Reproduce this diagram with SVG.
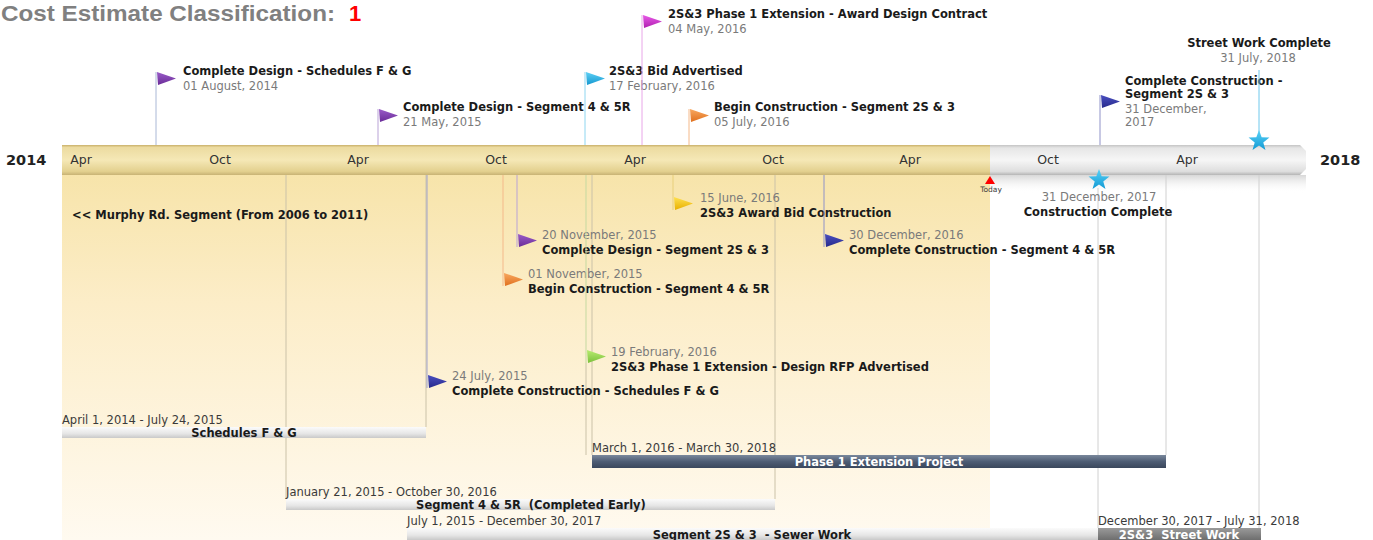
<svg xmlns="http://www.w3.org/2000/svg" xmlns:xlink="http://www.w3.org/1999/xlink" width="1373" height="540" viewBox="0 0 1373 540">
<style>
.t{font-family:"DejaVu Sans",Verdana,sans-serif;font-weight:bold;font-size:11.5px;fill:#1a1a1a}
.d{font-family:"DejaVu Sans",Verdana,sans-serif;font-size:11.5px;fill:#7a7a7a}
.bd{font-family:"DejaVu Sans",Verdana,sans-serif;font-size:11.5px;fill:#3a3a3a}
.m{font-family:"DejaVu Sans",Verdana,sans-serif;font-size:12.5px;fill:#333;text-anchor:middle}
.yr{font-family:"DejaVu Sans",Verdana,sans-serif;font-weight:bold;font-size:14.5px;fill:#222}
.w{font-family:"DejaVu Sans",Verdana,sans-serif;font-weight:bold;font-size:11.5px;fill:#fff;text-anchor:middle}
.ttl{font-family:"Liberation Sans",Arial,sans-serif;font-weight:bold;font-size:22px}
.c{text-anchor:middle}
.g{stroke:#cbc2a8;stroke-width:1}
.gw{stroke:#d0d0d0;stroke-width:1}
</style>
<defs>
<linearGradient id="gold" x1="0" y1="0" x2="0" y2="1">
<stop offset="0" stop-color="#c9b06a"/><stop offset="0.08" stop-color="#ecdba0"/><stop offset="0.5" stop-color="#f5e8b6"/><stop offset="0.88" stop-color="#e3d08e"/><stop offset="1" stop-color="#c8b274"/>
</linearGradient>
<linearGradient id="grey" x1="0" y1="0" x2="0" y2="1">
<stop offset="0" stop-color="#c4c4c4"/><stop offset="0.1" stop-color="#e6e6e6"/><stop offset="0.5" stop-color="#f6f6f6"/><stop offset="0.88" stop-color="#dedede"/><stop offset="1" stop-color="#b5b5b5"/>
</linearGradient>
<linearGradient id="bg" x1="0" y1="0" x2="0" y2="1">
<stop offset="0" stop-color="#f7e4aa"/><stop offset="0.35" stop-color="#fcedc8"/><stop offset="1" stop-color="#fffaf0"/>
</linearGradient>
<linearGradient id="shade" x1="0" y1="0" x2="0" y2="1">
<stop offset="0" stop-color="#d8d8d8"/><stop offset="1" stop-color="#ffffff" stop-opacity="0"/>
</linearGradient>
<linearGradient id="lbar" x1="0" y1="0" x2="0" y2="1">
<stop offset="0" stop-color="#fbfbfb"/><stop offset="0.6" stop-color="#e6e6e6"/><stop offset="1" stop-color="#c9c9c9"/>
</linearGradient>
<linearGradient id="dbar" x1="0" y1="0" x2="0" y2="1">
<stop offset="0" stop-color="#7a889c"/><stop offset="0.5" stop-color="#4e5d74"/><stop offset="1" stop-color="#3a475c"/>
</linearGradient>
<linearGradient id="sbar" x1="0" y1="0" x2="0" y2="1">
<stop offset="0" stop-color="#9a9a9a"/><stop offset="1" stop-color="#6e6e6e"/>
</linearGradient>
<linearGradient id="fPurple" x1="0" y1="0" x2="0" y2="1"><stop offset="0" stop-color="#9a5cc8"/><stop offset="1" stop-color="#6a2c98"/></linearGradient>
<linearGradient id="fNavy" x1="0" y1="0" x2="0" y2="1"><stop offset="0" stop-color="#4a4fc0"/><stop offset="1" stop-color="#272a8c"/></linearGradient>
<linearGradient id="fCyan" x1="0" y1="0" x2="0" y2="1"><stop offset="0" stop-color="#5fd0f5"/><stop offset="1" stop-color="#1498d0"/></linearGradient>
<linearGradient id="fMag" x1="0" y1="0" x2="0" y2="1"><stop offset="0" stop-color="#e85ae8"/><stop offset="1" stop-color="#b020b0"/></linearGradient>
<linearGradient id="fOrange" x1="0" y1="0" x2="0" y2="1"><stop offset="0" stop-color="#f8a860"/><stop offset="1" stop-color="#e0701e"/></linearGradient>
<linearGradient id="fYellow" x1="0" y1="0" x2="0" y2="1"><stop offset="0" stop-color="#ffe050"/><stop offset="1" stop-color="#e8b000"/></linearGradient>
<linearGradient id="fGreen" x1="0" y1="0" x2="0" y2="1"><stop offset="0" stop-color="#b8ec70"/><stop offset="1" stop-color="#7cc03c"/></linearGradient>
<linearGradient id="fStar" x1="0" y1="0" x2="0" y2="1"><stop offset="0" stop-color="#5ad2f8"/><stop offset="1" stop-color="#129ad4"/></linearGradient>
<path id="flag" d="M0,0 L19,6.5 L1,13 Z"/>
<path id="star" d="M0,-11 L2.65,-3.64 L10.46,-3.4 L4.28,1.39 L6.47,8.9 L0,4.5 L-6.47,8.9 L-4.28,1.39 L-10.46,-3.4 L-2.65,-3.64 Z"/>
</defs>

<rect width="1373" height="540" fill="#ffffff"/>

<!-- title -->
<g id="title">
<text class="ttl" x="1" y="21" fill="#808080" textLength="334" lengthAdjust="spacingAndGlyphs">Cost Estimate Classification:</text>
<text class="ttl" x="349" y="21" fill="#ff0000">1</text>
</g>

<!-- background areas -->
<rect x="62" y="175" width="928" height="365" fill="url(#bg)"/>
<rect x="990" y="175" width="316" height="18" fill="url(#shade)"/>

<!-- timeline bar -->
<g id="timeline">
<rect x="62" y="145" width="928" height="30" fill="url(#gold)"/>
<path d="M990,145 L1300,145 L1306,151 L1306,169 L1300,175 L990,175 Z" fill="url(#grey)"/>
<text class="yr" x="6" y="165">2014</text>
<text class="yr" x="1320" y="165">2018</text>
<text class="m" x="81" y="164">Apr</text>
<text class="m" x="220" y="164">Oct</text>
<text class="m" x="358" y="164">Apr</text>
<text class="m" x="496" y="164">Oct</text>
<text class="m" x="635" y="164">Apr</text>
<text class="m" x="773" y="164">Oct</text>
<text class="m" x="910" y="164">Apr</text>
<text class="m" x="1048" y="164">Oct</text>
<text class="m" x="1187" y="164">Apr</text>
</g>

<!-- guide lines -->
<g id="connectors">
<line class="g" x1="286" y1="175" x2="286" y2="499"/>
<line class="g" x1="426" y1="175" x2="426" y2="427"/>
<line class="g" x1="586" y1="363" x2="586" y2="455"/>
<line class="g" x1="592" y1="175" x2="592" y2="455"/>
<line class="g" x1="775" y1="175" x2="775" y2="499"/>
<line class="gw" x1="1098" y1="188" x2="1098" y2="528"/>
<line class="gw" x1="1166" y1="175" x2="1166" y2="455"/>
<line class="gw" x1="1259" y1="175" x2="1259" y2="528"/>
</g>

<text class="t" x="72" y="219" font-size="11">&lt;&lt; Murphy Rd. Segment (From 2006 to 2011)</text>

<!-- milestones above the bar -->
<g id="m-design-fg">
<line x1="156" y1="72" x2="156" y2="145" stroke="#aab8d6"/>
<use xlink:href="#flag" x="157" y="72" fill="url(#fPurple)"/>
<text class="t" x="183" y="75">Complete Design - Schedules F &amp; G</text>
<text class="d" x="183" y="90">01 August, 2014</text>
</g>
<g id="m-design-45r">
<line x1="378" y1="109" x2="378" y2="145" stroke="#b9a3d6"/>
<use xlink:href="#flag" x="379" y="109" fill="url(#fPurple)"/>
<text class="t" x="403" y="111">Complete Design - Segment 4 &amp; 5R</text>
<text class="d" x="403" y="126">21 May, 2015</text>
</g>
<g id="m-bid-adv">
<line x1="585" y1="72" x2="585" y2="145" stroke="#8fd6f0"/>
<use xlink:href="#flag" x="586" y="72" fill="url(#fCyan)"/>
<text class="t" x="609" y="75">2S&amp;3 Bid Advertised</text>
<text class="d" x="609" y="90">17 February, 2016</text>
</g>
<g id="m-award-design">
<line x1="642" y1="15" x2="642" y2="145" stroke="#e8a6e8"/>
<use xlink:href="#flag" x="643" y="15" fill="url(#fMag)"/>
<text class="t" x="668" y="18">2S&amp;3 Phase 1 Extension - Award Design Contract</text>
<text class="d" x="668" y="33">04 May, 2016</text>
</g>
<g id="m-begin-2s3">
<line x1="689" y1="109" x2="689" y2="145" stroke="#f4b98a"/>
<use xlink:href="#flag" x="690" y="109" fill="url(#fOrange)"/>
<text class="t" x="714" y="111">Begin Construction - Segment 2S &amp; 3</text>
<text class="d" x="714" y="126">05 July, 2016</text>
</g>
<g id="m-complete-2s3">
<line x1="1100" y1="95" x2="1100" y2="145" stroke="#8f92c8"/>
<use xlink:href="#flag" x="1101" y="95" fill="url(#fNavy)"/>
<text class="t" x="1125" y="85">Complete Construction -</text>
<text class="t" x="1125" y="98">Segment 2S &amp; 3</text>
<text class="d" x="1125" y="113">31 December,</text>
<text class="d" x="1125" y="126">2017</text>
</g>
<g id="m-street-complete">
<line x1="1259" y1="70" x2="1259" y2="132" stroke="#6fc8ec"/>
<use xlink:href="#star" transform="translate(1259,141)" fill="url(#fStar)"/>
<text class="t c" x="1259" y="47">Street Work Complete</text>
<text class="d c" x="1258" y="62">31 July, 2018</text>
</g>

<!-- milestones below the bar -->
<g id="m-award-bid">
<line x1="673" y1="175" x2="673" y2="210" stroke="#e8cf7a"/>
<use xlink:href="#flag" x="674" y="197" fill="url(#fYellow)"/>
<text class="d" x="700" y="202">15 June, 2016</text>
<text class="t" x="700" y="217">2S&amp;3 Award Bid Construction</text>
</g>
<g id="m-design-2s3">
<line x1="517" y1="175" x2="517" y2="247" stroke="#b9a3d6"/>
<use xlink:href="#flag" x="518" y="234" fill="url(#fPurple)"/>
<text class="d" x="542" y="239">20 November, 2015</text>
<text class="t" x="542" y="254">Complete Design - Segment 2S &amp; 3</text>
</g>
<g id="m-complete-45r">
<line x1="824" y1="175" x2="824" y2="247" stroke="#8f92c8"/>
<use xlink:href="#flag" x="825" y="234" fill="url(#fNavy)"/>
<text class="d" x="849" y="239">30 December, 2016</text>
<text class="t" x="849" y="254">Complete Construction - Segment 4 &amp; 5R</text>
</g>
<g id="m-begin-45r">
<line x1="503" y1="175" x2="503" y2="286" stroke="#f4b98a"/>
<use xlink:href="#flag" x="504" y="273" fill="url(#fOrange)"/>
<text class="d" x="528" y="278">01 November, 2015</text>
<text class="t" x="528" y="293">Begin Construction - Segment 4 &amp; 5R</text>
</g>
<g id="m-rfp">
<line x1="586" y1="175" x2="586" y2="363" stroke="#c5d9a0"/>
<use xlink:href="#flag" x="587" y="350" fill="url(#fGreen)"/>
<text class="d" x="611" y="356">19 February, 2016</text>
<text class="t" x="611" y="371">2S&amp;3 Phase 1 Extension - Design RFP Advertised</text>
</g>
<g id="m-complete-fg">
<line x1="427" y1="175" x2="427" y2="388" stroke="#9fa2cc"/>
<use xlink:href="#flag" x="428" y="375" fill="url(#fNavy)"/>
<text class="d" x="452" y="380">24 July, 2015</text>
<text class="t" x="452" y="395">Complete Construction - Schedules F &amp; G</text>
</g>
<g id="m-today">
<path d="M985,184 L990,176 L995,184 Z" fill="#ff0000"/>
<text x="991" y="192" font-family="DejaVu Sans, sans-serif" font-size="7.5" fill="#404040" text-anchor="middle">Today</text>
</g>
<g id="m-construction-complete">
<use xlink:href="#star" transform="translate(1099,180)" fill="url(#fStar)"/>
<text class="d c" x="1099" y="201">31 December, 2017</text>
<text class="t c" x="1098" y="216">Construction Complete</text>
</g>

<!-- bars -->
<g id="b-fg">
<rect x="62" y="427" width="364" height="11" fill="url(#lbar)"/>
<text class="bd" x="62" y="424">April 1, 2014 - July 24, 2015</text>
<text class="t c" x="244" y="437">Schedules F &amp; G</text>
</g>
<g id="b-phase1">
<rect x="592" y="455" width="574" height="13" fill="url(#dbar)"/>
<text class="bd" x="592" y="452">March 1, 2016 - March 30, 2018</text>
<text class="w" x="879" y="466">Phase 1 Extension Project</text>
</g>
<g id="b-45r">
<rect x="286" y="499" width="489" height="11" fill="url(#lbar)"/>
<text class="bd" x="286" y="496">January 21, 2015 - October 30, 2016</text>
<text class="t c" x="531" y="509" xml:space="preserve">Segment 4 &amp; 5R  (Completed Early)</text>
</g>
<g id="b-sewer">
<rect x="407" y="528" width="691" height="12" fill="url(#lbar)"/>
<text class="bd" x="407" y="525">July 1, 2015 - December 30, 2017</text>
<text class="t c" x="752" y="539" xml:space="preserve">Segment 2S &amp; 3  - Sewer Work</text>
</g>
<g id="b-street">
<rect x="1098" y="528" width="163" height="12" fill="url(#sbar)"/>
<text class="bd" x="1098" y="525">December 30, 2017 - July 31, 2018</text>
<text class="w" x="1179" y="539" xml:space="preserve">2S&amp;3  Street Work</text>
</g>
</svg>
